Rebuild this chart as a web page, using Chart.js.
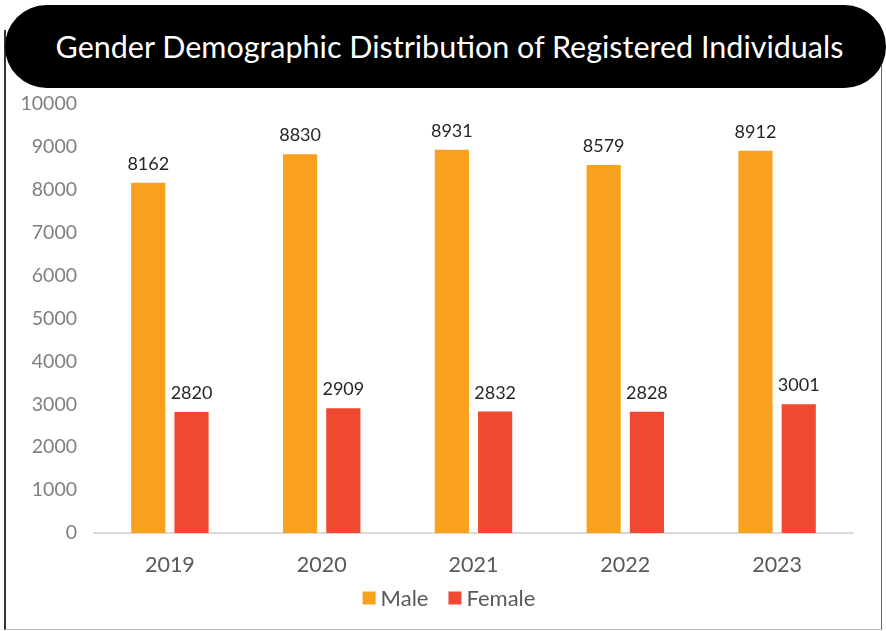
<!DOCTYPE html>
<html>
<head>
<meta charset="utf-8">
<script src="https://cdn.jsdelivr.net/npm/chart.js@4"></script>
<style>
	html, body { margin:0; padding:0; background:#fff; }
	#wrap { position:relative; width:886px; height:631px; overflow:hidden; font-family:Lato, sans-serif; }
	#frame { position:absolute; left:4px; top:30px; width:875px; height:599px; border-left:2px solid #333; border-right:1px solid #666; border-bottom:1px solid #bbb; }
	#banner { position:absolute; left:5px; top:5px; width:873px; height:83px; padding-left:8px; background:#000; border-radius:42px; color:#fff; font-size:30.5px; line-height:83px; text-align:center; }
	#cv { position:absolute; left:0; top:0; }
</style>
</head>
<body>
<div id="wrap">
	<div id="frame"></div>
	<canvas id="cv" width="886" height="631"></canvas>
	<div id="banner">Gender Demographic Distribution of Registered Individuals</div>
</div>
<script>
var years = ["2019","2020","2021","2022","2023"];
var male = [8162, 8830, 8931, 8579, 8912];
var female = [2820, 2909, 2832, 2828, 3001];
var yTicks = [0,1000,2000,3000,4000,5000,6000,7000,8000,9000,10000];

// valores encima de cada barra
var barLabels = {
	id:'barLabels',
	afterDatasetsDraw: function(chart){
		var ctx = chart.ctx;
		ctx.save();
		ctx.font = '18px Lato';
		ctx.fillStyle = '#262626';
		ctx.textAlign = 'center';
		ctx.textBaseline = 'alphabetic';
		chart.data.datasets.forEach(function(ds, i){
			chart.getDatasetMeta(i).data.forEach(function(bar, k){
				ctx.fillText(ds.data[k], bar.x, bar.y - 13);
			});
		});
		ctx.restore();
	}
};

// leyenda abajo, cuadrito pegado al texto
var bottomLegend = {
	id:'bottomLegend',
	afterDraw: function(chart){
		var ctx = chart.ctx, box = 13, gap = 5, sep = 20, y = 598;
		ctx.save();
		ctx.font = '22px Lato';
		ctx.textBaseline = 'middle';
		var items = chart.data.datasets.map(function(ds){
			return { text: ds.label, color: ds.backgroundColor, w: box + gap + ctx.measureText(ds.label).width };
		});
		var total = items.reduce(function(a, it){ return a + it.w; }, 0) + sep * (items.length - 1);
		var x = chart.width / 2 + 6 - total / 2;
		items.forEach(function(it){
			ctx.fillStyle = it.color;
			ctx.fillRect(x, y - box / 2, box, box);
			ctx.fillStyle = '#595959';
			ctx.fillText(it.text, x + box + gap, y + 1);
			x += it.w + sep;
		});
		ctx.restore();
	}
};

new Chart(document.getElementById('cv'),{
	type:'bar',
	data:{
		labels: years,
		datasets:[
			{ label:'Male', data: male, backgroundColor:'#F8A11F' },
			{ label:'Female', data: female, backgroundColor:'#EF4932' }
		]
	},
	options:{
		responsive:false,
		animation:false,
		layout:{ padding:{ top:104, right:33, bottom:48, left:0 } },
		datasets:{ bar:{ categoryPercentage:0.57, barPercentage:0.79 } },
		plugins:{
			title:{ display:false },
			tooltip:{ enabled:false },
			legend:{ display:false }
		},
		scales:{
			x:{
				grid:{ display:false, drawTicks:false },
				border:{ display:true, color:'#d9d9d9', width:2 },
				ticks:{ color:'#595959', padding:19, font:{ family:'Lato', size:21.5 } },
				afterFit: function(scale){ scale.height = 50; }
			},
			y:{
				min:0, max:10000,
				afterBuildTicks: function(scale){ scale.ticks = yTicks.map(function(v){ return {value:v}; }); },
				grid:{ display:false, drawTicks:false },
				border:{ display:false },
				ticks:{ color:'#7f7f7f', padding:17, font:{ family:'Lato', size:19.5 }, callback:function(v){ return String(v); } },
				afterFit: function(scale){ scale.width = 94; }
			}
		}
	},
	plugins:[barLabels, bottomLegend]
});
</script>
</body>
</html>
